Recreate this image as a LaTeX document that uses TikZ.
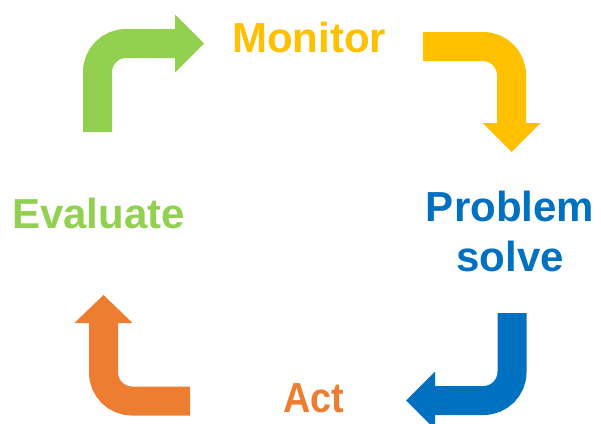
\documentclass[tikz,border=0pt]{standalone}
\usepackage{fontspec}
\setmainfont{Liberation Sans}
\definecolor{cyclegreen}{HTML}{92D050}
\definecolor{cycleyellow}{HTML}{FFC000}
\definecolor{cycleblue}{HTML}{0070C0}
\definecolor{cycleorange}{HTML}{ED7D31}
\tikzset{
  bent arrow/.style={line width=29pt, rounded corners=28.5pt},
  step label/.style={inner sep=0pt, font=\fontsize{42}{44}\selectfont\bfseries},
}
\begin{document}
\begin{tikzpicture}[x=1pt, y=-1pt]%
  \useasboundingbox (0,0) rectangle (601,423);
  \pgfmathsetmacro{\h}{29}% half width of an arrow head

  % labels
  \node[step label, text=cycleblue, anchor=base, align=center] (solve) at (510,271)
       {Problem\\[6pt]solve};
  \node[step label, text=cycleyellow, anchor=base west] (monitor) at (232,52) {Monitor};
  \node[step label, text=cycleorange, anchor=base west, xscale=0.9] (act) at (283,412) {Act};
  \node[step label, text=cyclegreen, anchor=base west] (evaluate) at (12,228) {Evaluate};

  % evaluate -> monitor
  \draw[bent arrow, cyclegreen] (97.5,132) |- (175,43.5);
  \fill[cyclegreen] (175,43.5-\h) -- (204,43.5) -- (175,43.5+\h) -- cycle;

  % monitor -> problem solve
  \draw[bent arrow, cycleyellow] (423,46.5) -| (511.5,123);
  \fill[cycleyellow] (511.5-\h,123) -- (511.5,152) -- (511.5+\h,123) -- cycle;

  % problem solve -> act
  \draw[bent arrow, cycleblue] (512,313) |- (435,400.5);
  \fill[cycleblue] (435,400.5-\h) -- (406,400.5) -- (435,400.5+\h) -- cycle;

  % act -> evaluate
  \draw[bent arrow, cycleorange] (190,401) -| (103.5,323);
  \fill[cycleorange] (103.5-\h,323) -- (103.5,295) -- (103.5+\h,323) -- cycle;
\end{tikzpicture}
\end{document}
